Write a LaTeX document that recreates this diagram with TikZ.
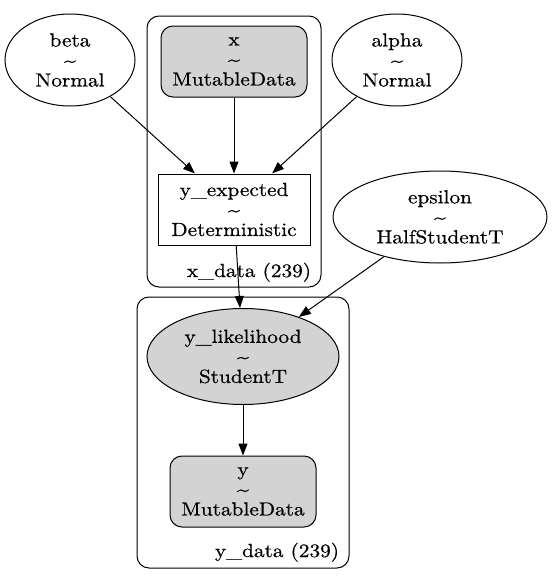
\documentclass[tikz,border=0pt]{standalone}
\usepackage{fontspec}
\setmainfont{lmroman10-regular.otf}[FakeStretch=1.12,FakeBold=0.6]
\usetikzlibrary{shapes.geometric,arrows.meta}
\definecolor{lgray}{HTML}{D3D3D3}
\tikzset{
  lbl/.style={font=\fontsize{19}{20}\selectfont, align=center, inner sep=0pt},
  rv/.style={lbl, ellipse, draw, line width=1pt},
  datanode/.style={lbl, rectangle, rounded corners=12pt, draw, fill=lgray, line width=1pt, minimum width=146pt, minimum height=71pt},
  detnode/.style={lbl, rectangle, draw, line width=1pt, minimum width=152pt, minimum height=71pt},
  plate/.style={draw, rounded corners=12pt, line width=1pt},
  edge/.style={-{Triangle[length=12pt,width=9pt]}, line width=1pt}
}
\begin{document}
\begin{tikzpicture}[x=1pt,y=-1pt]
\useasboundingbox (0,0) rectangle (553,584);
% plates
\draw[plate] (147,16) rectangle (321,287);
\draw[plate] (137,297) rectangle (349,568);
\node[lbl, anchor=base] (xplate) at (249,277) {x\_data (239)};
\node[lbl, anchor=base] (yplate) at (277,557) {y\_data (239)};
% nodes
\node[rv, minimum width=130pt, minimum height=92pt] (beta) at (70,60) {beta\\\textasciitilde\\Normal};
\node[rv, minimum width=130pt, minimum height=92pt] (alpha) at (397,60) {alpha\\\textasciitilde\\Normal};
\node[rv, minimum width=214pt, minimum height=92pt] (eps) at (440,217) {epsilon\\\textasciitilde\\HalfStudentT};
\node[datanode] (x) at (234,61.5) {x\\\textasciitilde\\MutableData};
\node[detnode] (yexp) at (234,209.5) {y\_expected\\\textasciitilde\\Deterministic};
\node[rv, fill=lgray, minimum width=192pt, minimum height=96pt] (ylik) at (243,356.5) {y\_likelihood\\\textasciitilde\\StudentT};
\node[datanode] (y) at (243,491.5) {y\\\textasciitilde\\MutableData};
% edges
\draw[edge] (beta) -- ([xshift=-39pt]yexp.north);
\draw[edge] (x) -- (yexp);
\draw[edge] (alpha) -- ([xshift=38pt]yexp.north);
\draw[edge] (yexp) -- (ylik);
\draw[edge] (eps) -- (ylik);
\draw[edge] (ylik) -- (y);
\end{tikzpicture}
\end{document}
